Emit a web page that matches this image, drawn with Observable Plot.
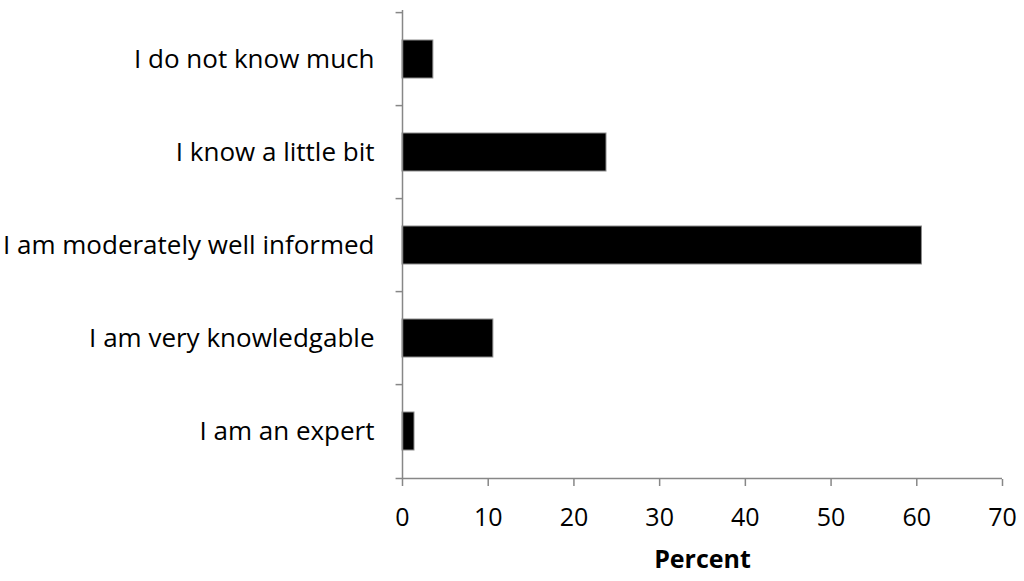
<!DOCTYPE html>
<html>
<head>
<meta charset="utf-8">
<script src="https://cdn.jsdelivr.net/npm/d3@7"></script>
<script src="https://cdn.jsdelivr.net/npm/@observablehq/plot@0.6"></script>
<style>
  html, body { margin: 0; padding: 0; background: #fff; }
</style>
</head>
<body>
<div id="chart"></div>
<script>
const categories = [
  "I do not know much",
  "I know a little bit",
  "I am moderately well informed",
  "I am very knowledgable",
  "I am an expert"
];
const percents = [3.6, 23.8, 60.6, 10.6, 1.4];
const xTicks = [0, 10, 20, 30, 40, 50, 60, 70];
const xLabel = "Percent";

const data = categories.map((c, i) => ({category: c, value: percents[i]}));

const W = 1024, H = 581;
const mTop = 10, mBottom = 102, mLeft = 402, mRight = 22;
const gray = "#878787";
const step = (H - mTop - mBottom) / categories.length;
const font = "'Open Sans', sans-serif";

const chart = Plot.plot({
  width: W,
  height: H,
  marginTop: mTop,
  marginBottom: mBottom,
  marginLeft: mLeft,
  marginRight: mRight,
  style: {fontFamily: font, fontSize: "25px", color: "#000", background: "#fff", overflow: "visible"},
  x: {domain: [0, 70]},
  y: {domain: categories, paddingInner: 0.595, paddingOuter: 0.2975},
  marks: [
    Plot.barX(data, {x: "value", y: "category", fill: "#000", stroke: "#8c8c8c", strokeWidth: 1}),
    Plot.ruleX([0], {stroke: gray, strokeWidth: 1.5}),
    Plot.ruleY(categories, {y: d => d, x1: -0.75, x2: 0, dy: -step / 2, stroke: gray, strokeWidth: 1.5}),
    Plot.ruleY([categories[categories.length - 1]], {y: d => d, x1: -0.75, x2: 70, dy: step / 2, stroke: gray, strokeWidth: 1.5}),
    Plot.axisX({ticks: xTicks, tickSize: 7, tickPadding: 22, stroke: gray, strokeWidth: 1.5, fill: "#000",
                fontSize: 25, label: xLabel, labelAnchor: "center", labelOffset: 88, labelArrow: "none"}),
    Plot.axisY({tickSize: 0, tickPadding: 28, fill: "#000", fontSize: 26, label: null})
  ]
});

const lbl = chart.querySelector('[aria-label="x-axis label"]');
if (lbl) { lbl.setAttribute("font-weight", "bold"); }

document.getElementById("chart").appendChild(chart);
</script>
</body>
</html>
